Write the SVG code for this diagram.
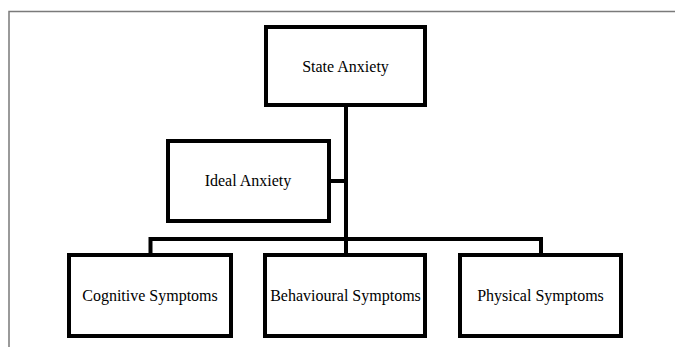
<svg xmlns="http://www.w3.org/2000/svg" width="675" height="347" viewBox="0 0 675 347">
<style>
.box{fill:#fff;stroke:#000;stroke-width:4}
.ln{fill:none;stroke:#000;stroke-width:4;stroke-linecap:butt;stroke-linejoin:miter}
.lbl{font-family:"Liberation Serif","Times New Roman",serif;font-size:16px;fill:#000;text-anchor:middle}
.frame{fill:none;stroke:#7a7a7a;stroke-width:1.5}
</style>
<rect x="0" y="0" width="675" height="347" fill="#fff"/>
<path class="frame" d="M9,347 V11.5 H675"/>
<g id="connectors">
<path class="ln" d="M346,107 V253"/>
<path class="ln" d="M331,181 H346"/>
<path class="ln" d="M150.5,253 V239 H541 V253"/>
</g>
<g id="state-anxiety">
<rect class="box" x="266" y="27" width="159" height="78"/>
<text class="lbl" x="345.5" y="72">State Anxiety</text>
</g>
<g id="ideal-anxiety">
<rect class="box" x="168" y="141" width="161" height="80"/>
<text class="lbl" x="248" y="186">Ideal Anxiety</text>
</g>
<g id="cognitive-symptoms">
<rect class="box" x="69" y="255" width="162" height="81"/>
<text class="lbl" x="150" y="301">Cognitive Symptoms</text>
</g>
<g id="behavioural-symptoms">
<rect class="box" x="265" y="255" width="160" height="81"/>
<text class="lbl" x="345.5" y="301">Behavioural Symptoms</text>
</g>
<g id="physical-symptoms">
<rect class="box" x="460" y="255" width="161" height="81"/>
<text class="lbl" x="540.5" y="301">Physical Symptoms</text>
</g>
</svg>
